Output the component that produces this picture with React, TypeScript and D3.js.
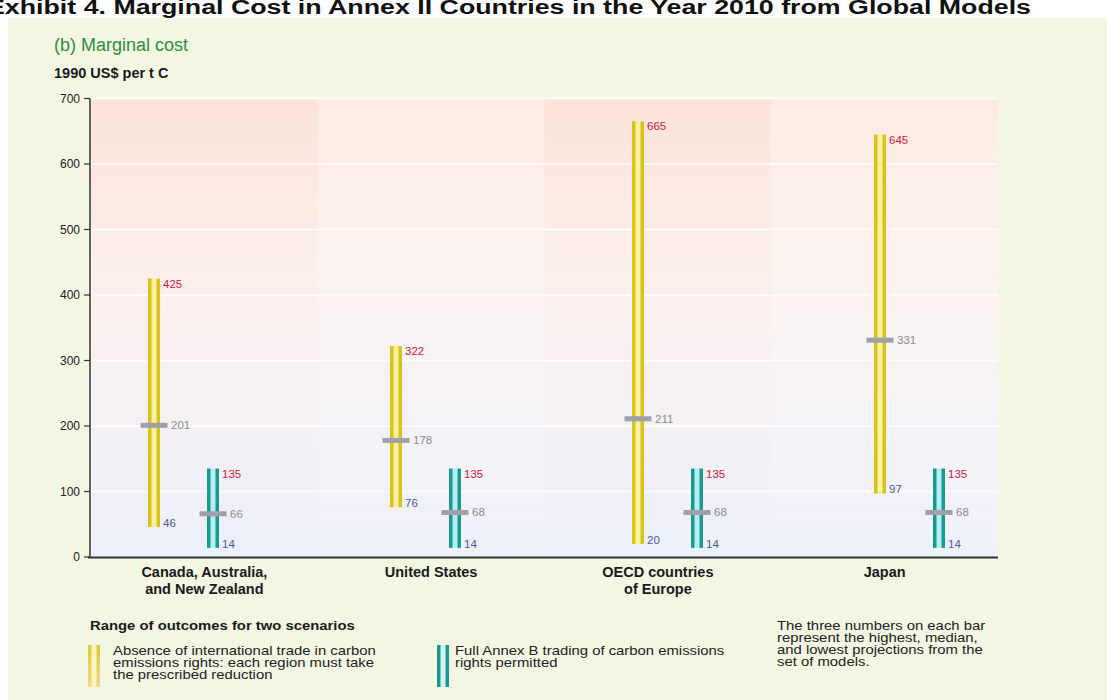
import React from "react";
import * as d3 from "d3";

const categories = ["Canada, Australia,|and New Zealand", "United States", "OECD countries|of Europe", "Japan"];
const noTradeHigh = [425, 322, 665, 645];
const noTradeMedian = [201, 178, 211, 331];
const noTradeLow = [46, 76, 20, 97];
const tradeHigh = [135, 135, 135, 135];
const tradeMedian = [66, 68, 68, 68];
const tradeLow = [14, 14, 14, 14];
const yTicks = [0, 100, 200, 300, 400, 500, 600, 700];
const legendNoTrade = ["Absence of international trade in carbon", "emissions rights: each region must take", "the prescribed reduction"];
const legendTrade = ["Full Annex B trading of carbon emissions", "rights permitted"];
const noteLines = ["The three numbers on each bar", "represent the highest, median,", "and lowest projections from the", "set of models."];

const W = 1107, H = 700;
const NARROW = "'Liberation Sans Narrow', 'Liberation Sans', Arial, sans-serif";
const SANS = "'Liberation Sans', Arial, sans-serif";

export default function App() {
  const y = d3.scaleLinear().domain([0, 700]).range([557, 98.5]);
  const xBand = d3.scaleBand().domain(categories).range([91, 998]).paddingInner(0);
  const xPair = d3.scalePoint().domain(categories).range([154, 880]);
  const tealOffset = 59;

  const Bar = ({ cx, hi, lo, kind }: { cx: number; hi: number; lo: number; kind: "y" | "t" }) => {
    const top = y(hi), bot = y(lo);
    const outer = kind === "y" ? "#D7C31A" : "#1C998F";
    const inner = kind === "y" ? "#FCF0A2" : "#B4EEF0";
    return (
      <g>
        <rect x={cx - 6} y={top} width={12} height={bot - top} fill={inner} />
        <rect x={cx - 6} y={top} width={3.5} height={bot - top} fill={outer} />
        <rect x={cx + 2.5} y={top} width={3.5} height={bot - top} fill={outer} />
      </g>
    );
  };

  const Labels = ({ cx, hi, med, lo }: { cx: number; hi: number; med: number; lo: number }) => (
    <g fontFamily={SANS} fontSize={11.5}>
      <rect x={cx - 13.5} y={y(med) - 2.5} width={27} height={5} fill="#A0A0AC" />
      <text x={cx + 9} y={y(hi) + 9} fill="#D2203A">{hi}</text>
      <text x={cx + 17} y={y(med)} dy="0.35em" fill="#8E8E8E">{med}</text>
      <text x={cx + 9} y={y(lo)} fill="#4B5A9C">{lo}</text>
    </g>
  );

  const Para = ({ x, y0, lines, step }: { x: number; y0: number; lines: string[]; step: number }) => (
    <g transform={`translate(${x},0) scale(1.24,1)`}>
      <text fontFamily={SANS} fontSize={12} fill="#222">
        {lines.map((l, i) => (
          <tspan key={i} x={0} y={y0 + i * step}>{l}</tspan>
        ))}
      </text>
    </g>
  );

  return (
    <svg width={W} height={H} style={{ position: "absolute", left: 0, top: 0 }} xmlns="http://www.w3.org/2000/svg">
      <defs>
        <linearGradient id="gA" x1="0" y1="0" x2="0" y2="1">
          <stop offset="0" stopColor="#FCE3D8" />
          <stop offset="0.45" stopColor="#FBF0EE" />
          <stop offset="1" stopColor="#ECF0FA" />
        </linearGradient>
        <linearGradient id="gB" x1="0" y1="0" x2="0" y2="1">
          <stop offset="0" stopColor="#FDEBE2" />
          <stop offset="0.45" stopColor="#FAF3F2" />
          <stop offset="1" stopColor="#EEF1FA" />
        </linearGradient>
        <linearGradient id="legY" x1="0" y1="0" x2="0" y2="1">
          <stop offset="0" stopColor="#E0CC34" />
          <stop offset="1" stopColor="#E9DB8C" />
        </linearGradient>
      </defs>
      <rect x={0} y={0} width={W} height={H} fill="#FFFFFF" />
      <rect x={8} y={18} width={W - 8} height={H - 18} fill="#F3F6E2" />
      <text x={-13} y={14} fontFamily={SANS} fontWeight="bold" fontSize={20} fill="#111" textLength={1044} lengthAdjust="spacingAndGlyphs">
        Exhibit 4. Marginal Cost in Annex II Countries in the Year 2010 from Global Models
      </text>

      <text x={54} y={51} fontFamily={NARROW} fontSize={18} fill="#2C8F40">(b) Marginal cost</text>
      <text x={54} y={78} fontFamily={NARROW} fontSize={14.5} fontWeight="bold" fill="#1A1A1A">1990 US$ per t C</text>

      {categories.map((c, i) => (
        <rect key={c} x={xBand(c)!} y={y(700)} width={xBand.bandwidth()} height={y(0) - y(700)} fill={i % 2 === 0 ? "url(#gA)" : "url(#gB)"} />
      ))}
      {yTicks.filter((t) => t > 0).map((t) => (
        <line key={t} x1={91} x2={998} y1={y(t)} y2={y(t)} stroke="#FFFFFF" strokeWidth={2} opacity={0.75} />
      ))}

      <line x1={90} x2={90} y1={y(700)} y2={y(0)} stroke="#333" strokeWidth={1.5} />
      <line x1={88} x2={998} y1={y(0) + 0.5} y2={y(0) + 0.5} stroke="#333" strokeWidth={2} />
      {yTicks.map((t) => (
        <g key={t}>
          <line x1={84} x2={90} y1={y(t)} y2={y(t)} stroke="#333" strokeWidth={1.2} />
          <text x={80} y={y(t)} dy="0.35em" textAnchor="end" fontFamily={NARROW} fontSize={12} fill="#222">{t}</text>
        </g>
      ))}

      {categories.map((c, i) => {
        const cx = xPair(c)!;
        return (
          <g key={c}>
            <Bar cx={cx} hi={noTradeHigh[i]} lo={noTradeLow[i]} kind="y" />
            <Labels cx={cx} hi={noTradeHigh[i]} med={noTradeMedian[i]} lo={noTradeLow[i]} />
            <Bar cx={cx + tealOffset} hi={tradeHigh[i]} lo={tradeLow[i]} kind="t" />
            <Labels cx={cx + tealOffset} hi={tradeHigh[i]} med={tradeMedian[i]} lo={tradeLow[i]} />
          </g>
        );
      })}

      {categories.map((c) => {
        const cx = xBand(c)! + xBand.bandwidth() / 2;
        return (
          <text key={c} x={cx} y={577} textAnchor="middle" fontFamily={SANS} fontWeight="bold" fontSize={14.5} fill="#1A1A1A">
            {c.split("|").map((l, j) => (
              <tspan key={j} x={cx} dy={j === 0 ? 0 : 16.5}>{l}</tspan>
            ))}
          </text>
        );
      })}

      <g transform="translate(90,0) scale(1.1,1)">
        <text x={0} y={630} fontFamily={SANS} fontWeight="bold" fontSize={13.5} fill="#1A1A1A">Range of outcomes for two scenarios</text>
      </g>
      <g>
        <rect x={88} y={645} width={12} height={42} fill="#FBF3C0" />
        <rect x={88} y={645} width={3.5} height={42} fill="url(#legY)" />
        <rect x={96.5} y={645} width={3.5} height={42} fill="url(#legY)" />
      </g>
      <Para x={113} y0={655} lines={legendNoTrade} step={12} />
      <g>
        <rect x={437} y={645} width={12} height={42} fill="#D5F3EE" />
        <rect x={437} y={645} width={3.5} height={42} fill="#1C998F" />
        <rect x={445.5} y={645} width={3.5} height={42} fill="#1C998F" />
      </g>
      <Para x={455} y0={655} lines={legendTrade} step={12} />
      <Para x={777} y0={630} lines={noteLines} step={12} />
    </svg>
  );
}
